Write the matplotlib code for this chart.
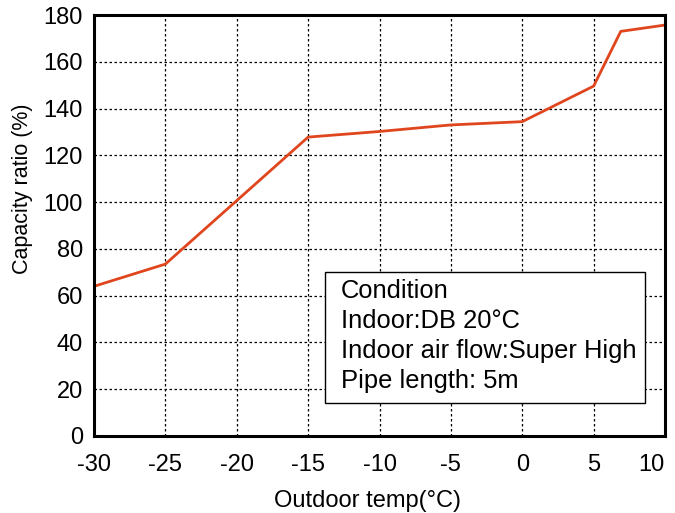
import matplotlib
matplotlib.use("Agg")
import matplotlib.pyplot as plt
from matplotlib.patches import Rectangle

# datos
outdoor_temp = [-30, -25, -15, -10, -5, 0, 5, 6.9, 10]
capacity_ratio = [64, 73.5, 127.8, 130.2, 133, 134.4, 149.6, 173, 175.7]

x_ticks = [-30, -25, -20, -15, -10, -5, 0, 5, 10]
y_ticks = [0, 20, 40, 60, 80, 100, 120, 140, 160, 180]

condition_lines = ["Condition", "Indoor:DB 20°C",
                   "Indoor air flow:Super High", "Pipe length: 5m"]

plt.rcParams['font.family'] = ['Liberation Sans', 'DejaVu Sans']
plt.rcParams['axes.unicode_minus'] = False

fig = plt.figure(figsize=(6.75, 5.13), dpi=100)
ax = fig.add_axes([94/675, 1 - 436/513, 571/675, 421/513])

ax.plot(outdoor_temp, capacity_ratio, color='#e0461e', linewidth=2)

ax.set_xlim(-30, 10)
ax.set_ylim(0, 180)
ax.set_xticks(x_ticks)
ax.set_yticks(y_ticks)
ax.tick_params(axis='both', length=0, labelsize=17)
ax.tick_params(axis='x', pad=13)
ax.tick_params(axis='y', pad=8)
ax.grid(True, color='black', linestyle=(0, (2, 2)), linewidth=0.9)

# el "10" del extremo alineado a la derecha para que no se corte
ax.xaxis.get_major_ticks()[-1].label1.set_horizontalalignment('right')

for s in ax.spines.values():
    s.set_linewidth(2.2)
    s.set_color('black')

ax.set_xlabel("Outdoor temp(°C)", fontsize=17)
ax.xaxis.set_label_coords((367 - 94) / 571, -(501 - 436) / 421)
ax.set_ylabel("Capacity ratio (%)", fontsize=15.5)
ax.yaxis.set_label_coords(-(94 - 23) / 571, (436 - 189) / 421)
ax.xaxis.label.set_va('center')
ax.yaxis.label.set_va('center')

# cuadro de condiciones
ax.add_patch(Rectangle((0.4046, 0.0784), 0.5604, 0.3111, transform=ax.transAxes,
                       facecolor='white', edgecolor='black', linewidth=1, zorder=3))
ax.text(0.4326, 0.374, "\n".join(condition_lines), transform=ax.transAxes,
        fontsize=18.4, va='top', ha='left', linespacing=1.33, zorder=4)

fig.savefig("out.png", dpi=100)
